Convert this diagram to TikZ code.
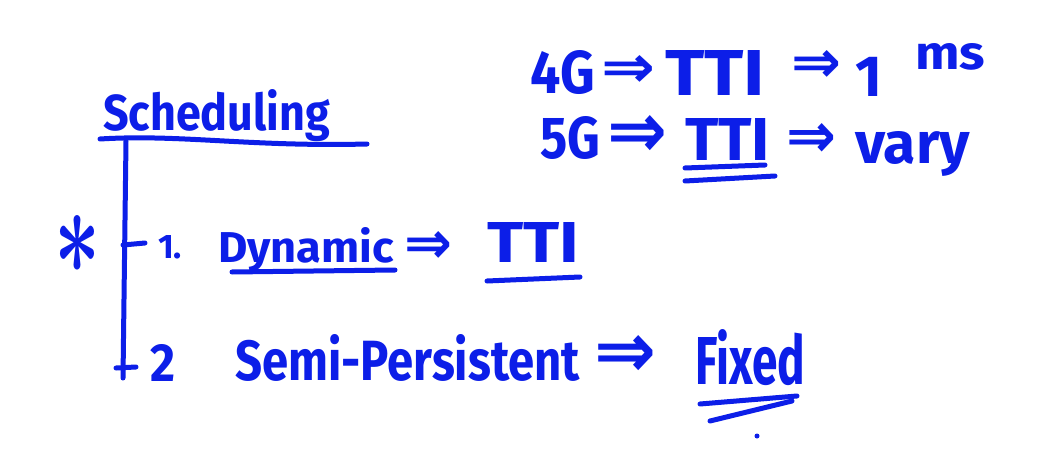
\documentclass[tikz,border=0pt]{standalone}
\usepackage{fontspec}
\usepackage{graphicx}
\newfontfamily\handfont{Fira Sans}
\newfontfamily\symfont{DejaVu Sans}
\definecolor{handblue}{RGB}{12,30,232}
\newcommand\hwh[3]{\resizebox{#1pt}{#2pt}{\handfont\bfseries #3}}
\newcommand\harrow[2]{\resizebox{#1pt}{#2pt}{\symfont\bfseries ⇒}}
\tikzset{
  word/.style={inner sep=0pt, outer sep=0pt, anchor=base west, text=handblue},
  sym/.style={inner sep=0pt, outer sep=0pt, anchor=center, text=handblue},
  stroke/.style={draw=handblue, line width=5pt, line cap=round, line join=round}
}
\begin{document}
\begin{tikzpicture}[x=1pt,y=-1pt]
\useasboundingbox[fill=white] (0,0) rectangle (1049,460);
% Title and tree
\node[word] (sched) at (103,130) {\hwh{227}{41}{Scheduling}};
\coordinate (ulA) at (100,139);
\coordinate (ulB) at (367,144);
\draw[stroke] (ulA) .. controls (180,134) and (250,147) .. (ulB);
\coordinate (vtop) at (126,141);
\coordinate (vbot) at (123,378);
\draw[stroke] (vtop) -- (vbot);
\coordinate (t1a) at (123,245);
\coordinate (t1b) at (145,243);
\draw[stroke] (t1a) -- (t1b);
\coordinate (t2a) at (116,368);
\coordinate (t2b) at (136,367);
\draw[stroke] (t2a) -- (t2b);
\node[sym] (star) at (78,244) {\resizebox{46pt}{58pt}{\boldmath$\ast$}};
% Row 1
\node[word] (one) at (158,258) {\handfont\bfseries\fontsize{34}{36}\selectfont 1.};
\node[word] (dyn) at (218,262) {\hwh{176}{35}{Dynamic}};
\draw[stroke] (232,272) -- (395,270);
\node[sym] (ar1) at (428,247) {\harrow{48}{32}};
\node[word] (tti1) at (487,262) {\hwh{92}{40}{TTI}};
\draw[stroke] (487,281) -- (580,277);
% Row 2
\node[word] (two) at (150,381) {\hwh{25}{37}{2}};
\node[word] (semi) at (235,380) {\hwh{345}{46}{Semi-Persistent}};
\node[sym] (ar2) at (625,356) {\harrow{62}{42}};
\node[word] (fixed) at (695,384) {\hwh{110}{55}{Fixed}};
\draw[stroke] (700,404) -- (797,396);
\draw[stroke] (710,421) -- (792,401);
\fill[handblue] (757,436) circle (2.5);
% Top right
\node[word] (g4) at (530,93) {\hwh{65}{43}{4G}};
\node[sym] (ar3) at (628,71) {\harrow{54}{32}};
\node[word] (tti2) at (665,95) {\hwh{100}{45}{TTI}};
\node[sym] (ar4) at (816,66) {\harrow{50}{32}};
\node[word] (onems) at (855,96) {\handfont\bfseries\fontsize{58}{60}\selectfont 1};
\node[word] (ms) at (915,70) {\hwh{70}{26}{ms}};
\node[word] (g5) at (540,158) {\hwh{60}{42}{5G}};
\node[sym] (ar5) at (637,136) {\harrow{60}{42}};
\node[word] (tti3) at (685,160) {\hwh{85}{42}{TTI}};
\draw[stroke] (685,168) -- (765,165);
\draw[stroke] (685,181) -- (775,176);
\node[sym] (ar6) at (811,140) {\harrow{50}{34}};
\node[word] (vary) at (855,163) {\hwh{115}{32}{vary}};
\end{tikzpicture}
\end{document}
